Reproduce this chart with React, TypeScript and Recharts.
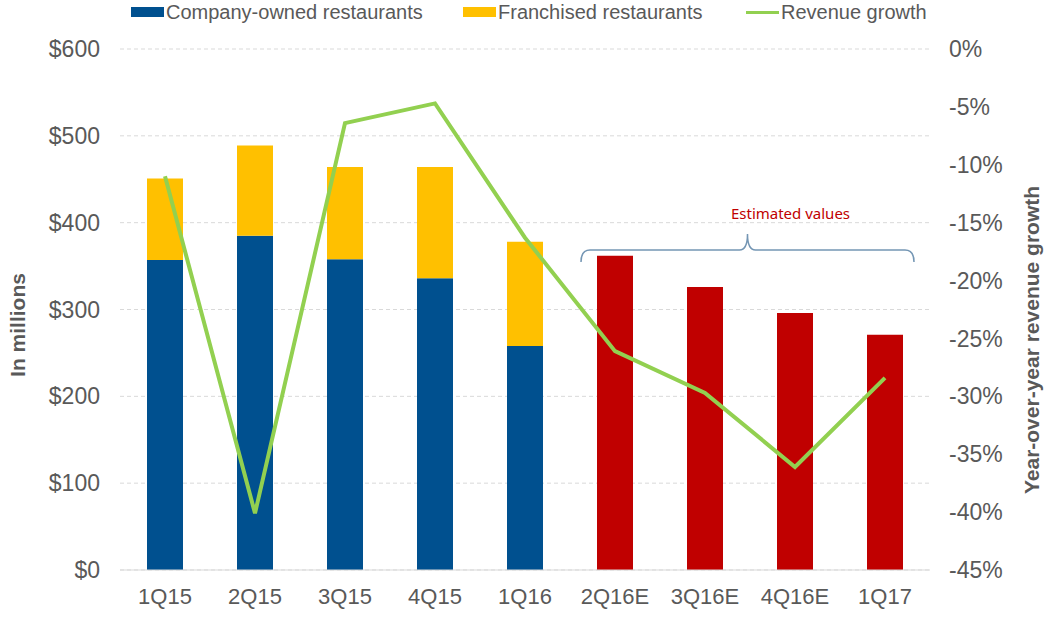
import React from 'react';
import {
  ComposedChart,
  Bar,
  Line,
  XAxis,
  YAxis,
  CartesianGrid,
  Legend,
  Customized,
} from 'recharts';

const quarters = ['1Q15', '2Q15', '3Q15', '4Q15', '1Q16', '2Q16E', '3Q16E', '4Q16E', '1Q17'];
const companyOwned = [357, 385, 358, 336, 258, null, null, null, null];
const franchised = [94, 104, 106, 128, 120, null, null, null, null];
const estimated = [null, null, null, null, null, 362, 326, 296, 271];
const revenueGrowth = [-11.0, -40.1, -6.4, -4.7, -16.3, -26.1, -29.7, -36.1, -28.4];

const leftTicks = [0, 100, 200, 300, 400, 500, 600];
const rightTicks = [-45, -40, -35, -30, -25, -20, -15, -10, -5, 0];

const data = quarters.map((q, i) => ({
  quarter: q,
  company: companyOwned[i],
  franchised: franchised[i],
  estimated: estimated[i],
  growth: revenueGrowth[i],
}));

const W = 1051;
const H = 628;
const PLOT_LEFT = 120;
const PLOT_RIGHT = 930;
const TEXT = '#595959';
const FONT = '"Liberation Sans", Arial, sans-serif';

const legendItems = [
  { label: 'Company-owned restaurants', color: '#00508F', type: 'rect', left: 131 },
  { label: 'Franchised restaurants', color: '#FFC000', type: 'rect', left: 463 },
  { label: 'Revenue growth', color: '#92D050', type: 'line', left: 746 },
];

const ChartLegend = () => (
  <div style={{ position: 'relative', width: W, height: 24, fontFamily: FONT }}>
    {legendItems.map((it) => (
      <div
        key={it.label}
        style={{ position: 'absolute', left: it.left, top: 0, height: 24, display: 'flex', alignItems: 'center' }}
      >
        <span
          style={{
            display: 'inline-block',
            width: 33,
            height: it.type === 'rect' ? 10 : 3,
            background: it.color,
            marginRight: 2,
          }}
        />
        <span style={{ fontSize: 20, color: TEXT, lineHeight: '24px' }}>{it.label}</span>
      </div>
    ))}
  </div>
);

const AxisTitle = (props: any) => {
  const { title, tx, ty } = props;
  return (
    <text
      x={tx}
      y={ty}
      transform={`rotate(-90, ${tx}, ${ty})`}
      textAnchor="middle"
      dominantBaseline="central"
      fill={TEXT}
      fontSize={21}
      fontWeight="bold"
      fontFamily={FONT}
    >
      {title}
    </text>
  );
};

// bracket over the estimated quarters
const EstimateBracket = () => {
  const band = (PLOT_RIGHT - PLOT_LEFT) / quarters.length;
  const first = quarters.indexOf('2Q16E');
  const x1 = PLOT_LEFT + first * band + 11;
  const x2 = PLOT_LEFT + quarters.length * band - 16;
  const mid = (x1 + x2) / 2;
  const y = 250;
  const d = `M${x1},${y + 12} Q${x1},${y} ${x1 + 9},${y} L${mid - 8},${y} Q${mid},${y} ${mid},${y - 16} Q${mid},${y} ${mid + 8},${y} L${x2 - 9},${y} Q${x2},${y} ${x2},${y + 12}`;
  return (
    <g>
      <path d={d} fill="none" stroke="#7496B4" strokeWidth={1.5} />
      <text
        x={mid + 43}
        y={219}
        textAnchor="middle"
        fill="#C00000"
        fontSize={15}
        fontFamily='"Noto Sans", sans-serif'
      >
        Estimated values
      </text>
    </g>
  );
};

export default function App() {
  return (
    <div style={{ position: 'absolute', left: 0, top: 0, width: W, height: H, background: '#fff' }}>
      <ComposedChart
        width={W}
        height={H}
        data={data}
        margin={{ top: 25, right: 0, bottom: 28, left: 0 }}
        barCategoryGap={0}
      >
        <Legend
          verticalAlign="top"
          content={<ChartLegend />}
          wrapperStyle={{ top: 0, left: 0, width: W, height: 24 }}
        />
        <CartesianGrid
          yAxisId="left"
          vertical={false}
          stroke="#D9D9D9"
          strokeDasharray="4 3"
        />
        <XAxis
          dataKey="quarter"
          axisLine={{ stroke: '#D9D9D9' }}
          tickLine={false}
          tickMargin={12}
          height={30}
          tick={{ fill: TEXT, fontSize: 22, fontFamily: FONT }}
        />
        <YAxis
          yAxisId="left"
          orientation="left"
          width={120}
          domain={[0, 600]}
          ticks={leftTicks}
          axisLine={false}
          tickLine={false}
          tickMargin={14}
          tickFormatter={(v: number) => `$${v}`}
          tick={{ fill: TEXT, fontSize: 23, fontFamily: FONT }}
          label={<AxisTitle title="In millions" tx={17} ty={325} />}
        />
        <YAxis
          yAxisId="right"
          orientation="right"
          width={121}
          domain={[-45, 0]}
          ticks={rightTicks}
          axisLine={false}
          tickLine={false}
          tickMargin={13}
          tickFormatter={(v: number) => `${v}%`}
          tick={{ fill: TEXT, fontSize: 23, fontFamily: FONT, textAnchor: 'start' }}
          label={<AxisTitle title="Year-over-year revenue growth" tx={1031} ty={340} />}
        />
        <Bar yAxisId="left" dataKey="company" stackId="rev" fill="#00508F" barSize={36} isAnimationActive={false} />
        <Bar yAxisId="left" dataKey="franchised" stackId="rev" fill="#FFC000" barSize={36} isAnimationActive={false} />
        <Bar yAxisId="left" dataKey="estimated" stackId="rev" fill="#C00000" barSize={36} isAnimationActive={false} />
        <Line
          yAxisId="right"
          type="linear"
          dataKey="growth"
          stroke="#92D050"
          strokeWidth={4}
          dot={false}
          activeDot={false}
          isAnimationActive={false}
        />
        <Customized component={<EstimateBracket />} />
      </ComposedChart>
    </div>
  );
}
